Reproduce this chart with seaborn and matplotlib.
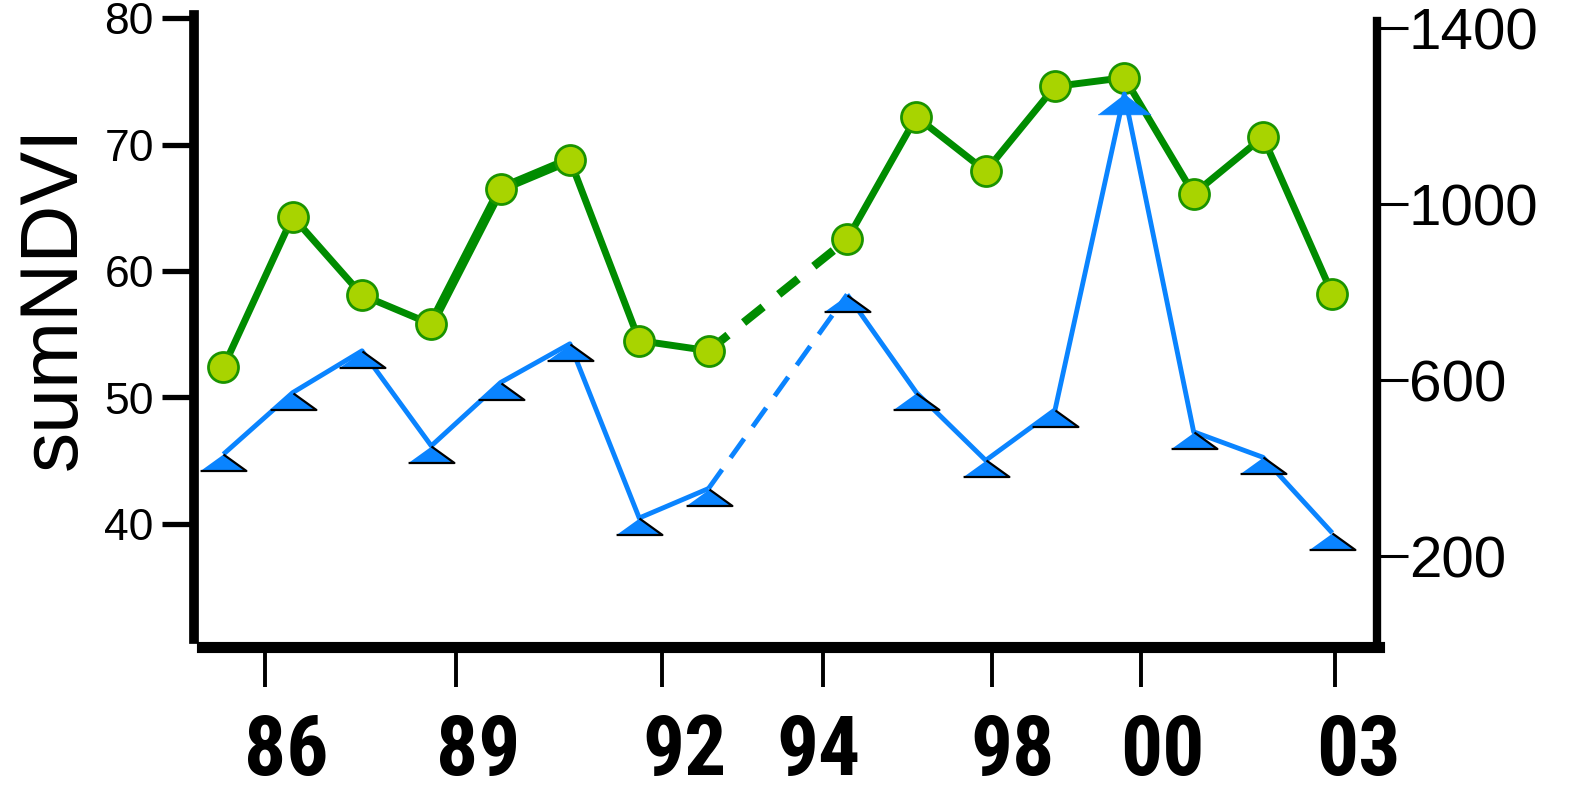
import numpy as np
import pandas as pd
import matplotlib
matplotlib.use("Agg")
import matplotlib.pyplot as plt
import seaborn as sns
from matplotlib import font_manager as fm

# ---------------- data ----------------
years = [1987, 1988, 1989, 1990, 1991, 1992, 1993, 1994,
         1996, 1997, 1998, 1999, 2000, 2001, 2002, 2003]
sum_ndvi = [52.4, 64.3, 58.1, 55.8, 66.5, 68.8, 54.5, 53.7,
            62.5, 72.2, 67.9, 74.6, 75.3, 66.1, 70.6, 58.2]
precip = [432, 572, 667, 451, 595, 683, 287, 354,
          795, 572, 418, 533, 1251, 483, 425, 253]
xtick_labels = ["86", "89", "92", "94", "98", "00", "03"]
left_ticks = [40, 50, 60, 70, 80]
right_ticks = [200, 600, 1000, 1400]

# ---------------- layout (reference pixel geometry) ----------------
W, H = 1568, 786
tick_pos = [1987.598, 1990.355, 1993.330, 1995.649, 1998.085, 2000.244, 2003.044]
label_pos = [1987.904, 1990.676, 1993.651, 1995.591, 1998.391, 2000.550, 2003.380]

GREEN = "#008c00"
GREEN_FILL = "#a8d400"
GREEN_EDGE = "#1a9400"
BLUE = "#0a84ff"

sns.set_theme(style="white")
plt.rcParams["font.family"] = ["Liberation Sans", "DejaVu Sans"]

font_weights = {}
for f in fm.fontManager.ttflist:
    font_weights.setdefault(f.name, set()).add(f.weight)
xfont, xsize = ["Liberation Sans", "DejaVu Sans"], 50
for cand, size in [("Roboto Condensed", 60), ("PT Sans Narrow", 62),
                   ("Fira Sans Condensed", 58), ("IBM Plex Sans Condensed", 58),
                   ("Open Sans Condensed", 58), ("Asap Condensed", 60),
                   ("Barlow Condensed", 62)]:
    ws = font_weights.get(cand, set())
    if any((isinstance(w, int) and w >= 600) or w == "bold" for w in ws):
        xfont, xsize = [cand, "DejaVu Sans"], size
        break

fig = plt.figure(figsize=(15.85, 7.95), dpi=100)
ax = fig.add_axes([192 / W, 1 - 640 / H, (1362 - 192) / W, (640 - 15) / H])
ax2 = ax.twinx()

ax.set_xlim(1986.577, 2003.642)
ax.set_ylim(30.24, 80.24)
ax2.set_ylim(-6.9, 1429.9)

df = pd.DataFrame({"year": years, "ndvi": sum_ndvi, "precip": precip})
gap_a, gap_b = 1994, 1996
part1 = df[df.year <= gap_a]
bridge = df[(df.year >= gap_a) & (df.year <= gap_b)]
part2 = df[df.year >= gap_b]
thick = df[(df.year >= 1990) & (df.year <= 1992)]

# green series (left axis)
sns.lineplot(data=part1, x="year", y="ndvi", ax=ax, color=GREEN, linewidth=5.0,
             solid_capstyle="butt", zorder=2)
sns.lineplot(data=thick, x="year", y="ndvi", ax=ax, color=GREEN, linewidth=7.0,
             solid_capstyle="butt", zorder=2)
sns.lineplot(data=bridge, x="year", y="ndvi", ax=ax, color=GREEN, linewidth=6.0,
             linestyle=(0, (3.0, 2.4)), dash_capstyle="butt", zorder=2)
sns.lineplot(data=part2, x="year", y="ndvi", ax=ax, color=GREEN, linewidth=5.0,
             solid_capstyle="butt", zorder=2)
sns.scatterplot(data=df, x="year", y="ndvi", ax=ax, s=21.6 ** 2, color=GREEN_FILL,
                edgecolor=GREEN_EDGE, linewidth=2, zorder=3)

# blue series (right axis)
sns.lineplot(data=part1, x="year", y="precip", ax=ax2, color=BLUE, linewidth=3.5,
             solid_capstyle="butt", zorder=2)
sns.lineplot(data=bridge, x="year", y="precip", ax=ax2, color=BLUE, linewidth=3.5,
             linestyle=(0, (4.8, 3.0)), dash_capstyle="butt", zorder=2)
sns.lineplot(data=part2, x="year", y="precip", ax=ax2, color=BLUE, linewidth=3.5,
             solid_capstyle="butt", zorder=2)

small_tri = [(-1, -0.72), (1, -0.72), (0, 0)]
big_tri = [(-1, -0.77), (1, -0.77), (0, 0)]
peak = df["precip"].idxmax()
others = df.drop(index=peak)
ax2.plot(others["year"], others["precip"], ls="none", marker=small_tri, ms=33,
         mfc=BLUE, mec="black", mew=1.6, zorder=3)
ax2.plot([df.loc[peak, "year"]], [df.loc[peak, "precip"]], ls="none", marker=big_tri,
         ms=38, mfc=BLUE, mec=BLUE, mew=0.5, zorder=3)

# ---------------- axes styling ----------------
for s in ["top", "right"]:
    ax.spines[s].set_visible(False)
for s in ["top", "left", "bottom"]:
    ax2.spines[s].set_visible(False)
ax.spines["left"].set_linewidth(7)
ax.spines["left"].set_color("black")
ax.spines["left"].set_bounds(30.88, 80.24)
ax.spines["bottom"].set_linewidth(8)
ax.spines["bottom"].set_color("black")
ax.spines["bottom"].set_bounds(1986.694, 2003.68)
ax2.spines["right"].set_linewidth(6)
ax2.spines["right"].set_color("black")
ax2.spines["right"].set_bounds(-6.9, 1417)

ax.set_yticks(left_ticks)
ax.set_yticklabels([str(v) for v in left_ticks])
ax.tick_params(axis="y", left=True, direction="out", length=23, width=3.8,
               labelsize=32, pad=6, colors="black")

ax2.set_yticks(right_ticks)
ax2.set_yticklabels([str(v) for v in right_ticks])
ax2.tick_params(axis="y", right=True, direction="out", length=22, width=2.2,
                labelsize=42, pad=1, colors="black")

ax.set_xticks(tick_pos)
ax.set_xticklabels([""] * len(tick_pos))
ax.set_xticks(label_pos, minor=True)
ax.set_xticklabels(xtick_labels, minor=True)
ax.tick_params(axis="x", which="major", bottom=True, direction="out", length=29,
               width=2.8, colors="black")
ax.tick_params(axis="x", which="minor", bottom=True, length=0, pad=47,
               labelsize=xsize, labelcolor="black")
for lab in ax.get_xticklabels(minor=True):
    lab.set_fontfamily(xfont)
    lab.set_fontweight("bold")
    lab.set_color("black")

ax.set_xlabel("")
ax2.set_ylabel("")
ax.set_ylabel("sumNDVI", fontsize=58, color="black")
ax.yaxis.label.set_rotation_mode("default")
ax.yaxis.label.set_ha("center")
ax.yaxis.label.set_va("center")
ax.yaxis.set_label_coords((54 - 192) / (1362 - 192), (640 - 294) / (640 - 15))

ax.grid(False)
ax2.grid(False)

fig.savefig("out.png", dpi=100, facecolor="white")
